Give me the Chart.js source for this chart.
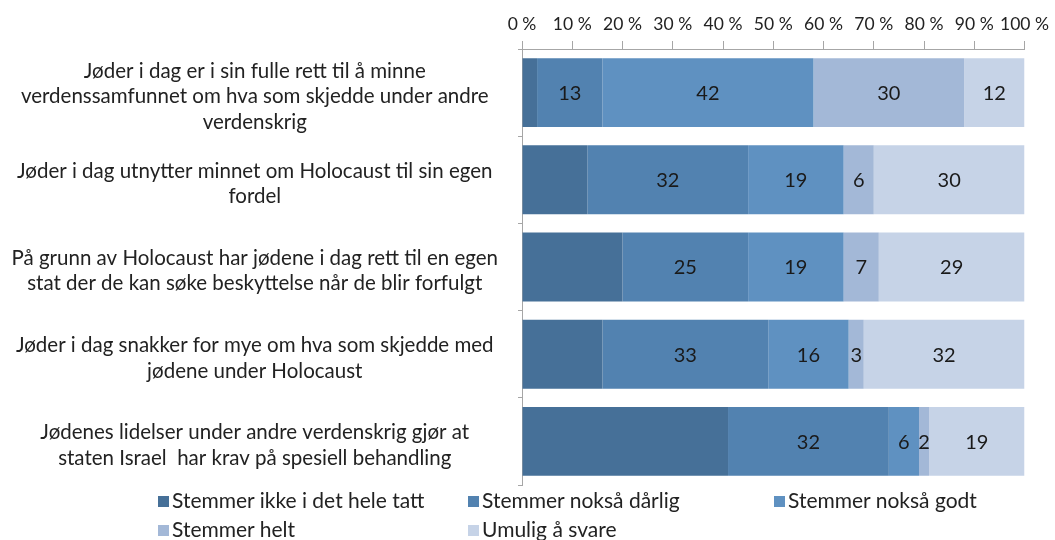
<!DOCTYPE html>
<html>
<head>
<meta charset="utf-8">
<script src="https://cdn.jsdelivr.net/npm/chart.js@4"></script>
<style>
    body { margin: 0; background: #fff; }
    #wrap { position: relative; width: 1055px; height: 540px; }
    #chartBox { position: absolute; left: 0; top: 0; width: 1055px; height: 490px; }
    #legend { position: absolute; left: 0; top: 487px; width: 1055px; height: 53px; font-family: Lato, sans-serif; font-size: 21px; color: #222; }
    .lg-item { position: absolute; white-space: nowrap; }
    .lg-box { display: inline-block; width: 11px; height: 11px; margin-right: 3px; vertical-align: 1px; }
</style>
</head>
<body>
<div id="wrap">
    <div id="chartBox"><canvas id="surveyChart"></canvas></div>
    <div id="legend"></div>
</div>
<script>
// Statements (y axis)
const statements = [
    ['Jøder i dag er i sin fulle rett til å minne', 'verdenssamfunnet om hva som skjedde under andre', 'verdenskrig'],
    ['Jøder i dag utnytter minnet om Holocaust til sin egen', 'fordel'],
    ['På grunn av Holocaust har jødene i dag rett til en egen', 'stat der de kan søke beskyttelse når de blir forfulgt'],
    ['Jøder i dag snakker for mye om hva som skjedde med', 'jødene under Holocaust'],
    ['Jødenes lidelser under andre verdenskrig gjør at', 'staten Israel  har krav på spesiell behandling']
];

// Answer shares in percent
const ikkeIDetHeleTatt = [3, 13, 20, 16, 41];
const noksaDarlig = [13, 32, 25, 33, 32];
const noksaGodt = [42, 19, 19, 16, 6];
const helt = [30, 6, 7, 3, 2];
const umulig = [12, 30, 29, 32, 19];

const seriesNames = ['Stemmer ikke i det hele tatt', 'Stemmer nokså dårlig', 'Stemmer nokså godt', 'Stemmer helt', 'Umulig å svare'];
const seriesColors = ['#467098', '#5282b0', '#5f91c1', '#a3b8d7', '#c6d3e7'];
const percentTicks = [0, 10, 20, 30, 40, 50, 60, 70, 80, 90, 100];

const allSeries = [ikkeIDetHeleTatt, noksaDarlig, noksaGodt, helt, umulig];

// Value labels inside segments (first series is not labelled)
const segmentLabels = {
    id: 'segmentLabels',
    afterDatasetsDraw(chart) {
        const ctx = chart.ctx;
        ctx.save();
        ctx.font = '20px Lato, sans-serif';
        ctx.fillStyle = '#1a1a1a';
        ctx.textAlign = 'center';
        ctx.textBaseline = 'middle';
        chart.data.datasets.forEach((ds, i) => {
            if (i === 0) return;
            const meta = chart.getDatasetMeta(i);
            meta.data.forEach((bar, j) => {
                const cx = (bar.x + bar.base) / 2;
                ctx.fillText(String(ds.data[j]), cx, bar.y + 1);
            });
        });
        ctx.restore();
    }
};

const surveyChart = new Chart(document.getElementById('surveyChart').getContext('2d'), {
    type: 'bar',
    data: {
        labels: statements,
        datasets: allSeries.map((values, i) => ({
            label: seriesNames[i],
            data: values,
            backgroundColor: seriesColors[i],
            borderWidth: 0,
            barPercentage: 0.79,
            categoryPercentage: 1
        }))
    },
    options: {
        indexAxis: 'y',
        responsive: true,
        maintainAspectRatio: false,
        animation: false,
        layout: { padding: { top: 8, right: 30, bottom: 5, left: 0 } },
        plugins: {
            legend: { display: false },
            tooltip: { enabled: false }
        },
        scales: {
            x: {
                position: 'top',
                stacked: true,
                min: 0,
                max: 100,
                afterBuildTicks: (scale) => {
                    scale.ticks = percentTicks.map(v => ({ value: v }));
                },
                ticks: {
                    color: '#222',
                    padding: 6,
                    autoSkip: false,
                    maxRotation: 0,
                    font: { family: 'Lato, sans-serif', size: 17.5 },
                    callback: (v) => v + ' %'
                },
                grid: {
                    drawOnChartArea: false,
                    drawTicks: true,
                    tickLength: 8,
                    color: '#a6a6a6'
                },
                border: { color: '#a6a6a6' }
            },
            y: {
                stacked: true,
                afterFit: (scale) => {
                    scale.width = 522;
                    scale.paddingTop = 0;
                    scale.paddingBottom = 0;
                },
                ticks: {
                    color: '#222',
                    autoSkip: false,
                    crossAlign: 'center',
                    padding: 20,
                    labelOffset: 4,
                    font: { family: 'Lato, sans-serif', size: 20.5, lineHeight: 1.25 }
                },
                grid: {
                    offset: true,
                    drawOnChartArea: false,
                    drawTicks: true,
                    tickLength: 4,
                    color: '#a6a6a6'
                },
                border: { color: '#a6a6a6' }
            }
        }
    },
    plugins: [segmentLabels]
});

// Legend laid out in a grid like the original
const legendEl = document.getElementById('legend');
const legendPos = [[158, 0], [468, 0], [774, 0], [158, 29], [468, 29]];
surveyChart.data.datasets.forEach((ds, i) => {
    const item = document.createElement('div');
    item.className = 'lg-item';
    item.style.left = legendPos[i][0] + 'px';
    item.style.top = legendPos[i][1] + 'px';
    item.innerHTML = '<span class="lg-box" style="background:' + ds.backgroundColor + '"></span>' + ds.label;
    legendEl.appendChild(item);
});
</script>
</body>
</html>
